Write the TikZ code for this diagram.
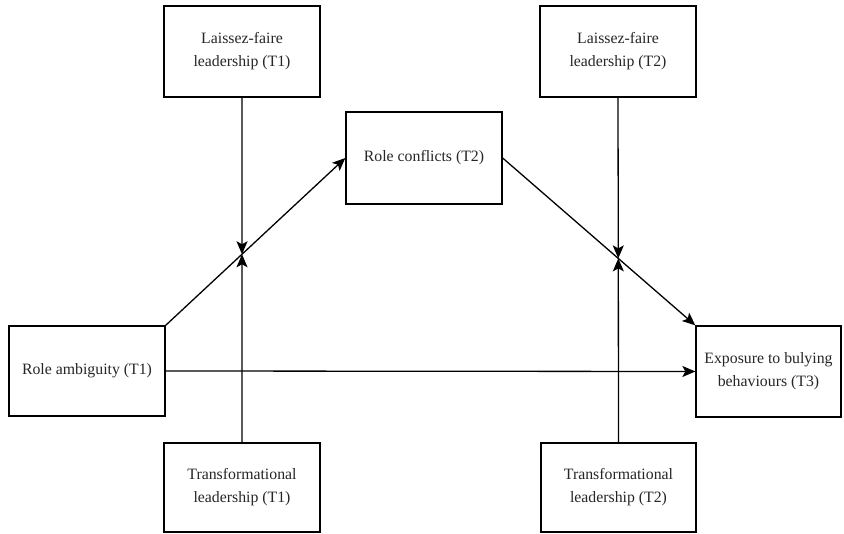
\documentclass[tikz,border=0pt]{standalone}
\usepackage{fontspec}
\setmainfont{Liberation Serif}
\usetikzlibrary{arrows.meta}
\begin{document}
\begin{tikzpicture}[x=1pt,y=-1pt,
  box/.style={draw, line width=1.3pt, align=center, inner sep=0pt,
    font=\fontsize{15.8}{23}\selectfont, text=black!85},
  link/.style={line width=1.3pt, -{Stealth[length=13pt,width=11pt,inset=3pt]}}]
\fill[white] (0,0) rectangle (844,534);
\useasboundingbox (0,0) rectangle (844,534);

% moderators
\node[box, minimum width=156pt, minimum height=91pt] (lf1) at (242,51.5) {Laissez-faire\\leadership (T1)};
\node[box, minimum width=156pt, minimum height=91pt] (lf2) at (618,51.5) {Laissez-faire\\leadership (T2)};
\node[box, minimum width=156pt, minimum height=89pt] (tf1) at (242,487.5) {Transformational\\leadership (T1)};
\node[box, minimum width=155pt, minimum height=89pt] (tf2) at (618.5,487.5) {Transformational\\leadership (T2)};

% main path
\node[box, minimum width=156pt, minimum height=92pt] (rc) at (424,158) {Role conflicts (T2)};
\node[box, minimum width=156pt, minimum height=90pt] (ra) at (87,371) {Role ambiguity (T1)};
\node[box, minimum width=145pt, minimum height=91pt] (ex) at (768.5,371.5) {Exposure to bulying\\behaviours (T3)};

\draw[link] (ra.north east) -- (rc.west);
\draw[link] (rc.east) -- (ex.north west);
\draw[link] (ra.east) -- (ex.west);

% moderation points on the paths
\coordinate (m1) at (intersection of ra.north east--rc.west and lf1.south--tf1.north);
\coordinate (m2) at (intersection of rc.east--ex.north west and lf2.south--tf2.north);

\draw[link] (lf1.south) -- (m1);
\draw[link] (tf1.north) -- (m1);
\draw[link] (lf2.south) -- (m2);
\draw[link] (tf2.north) -- (m2);
\end{tikzpicture}
\end{document}
